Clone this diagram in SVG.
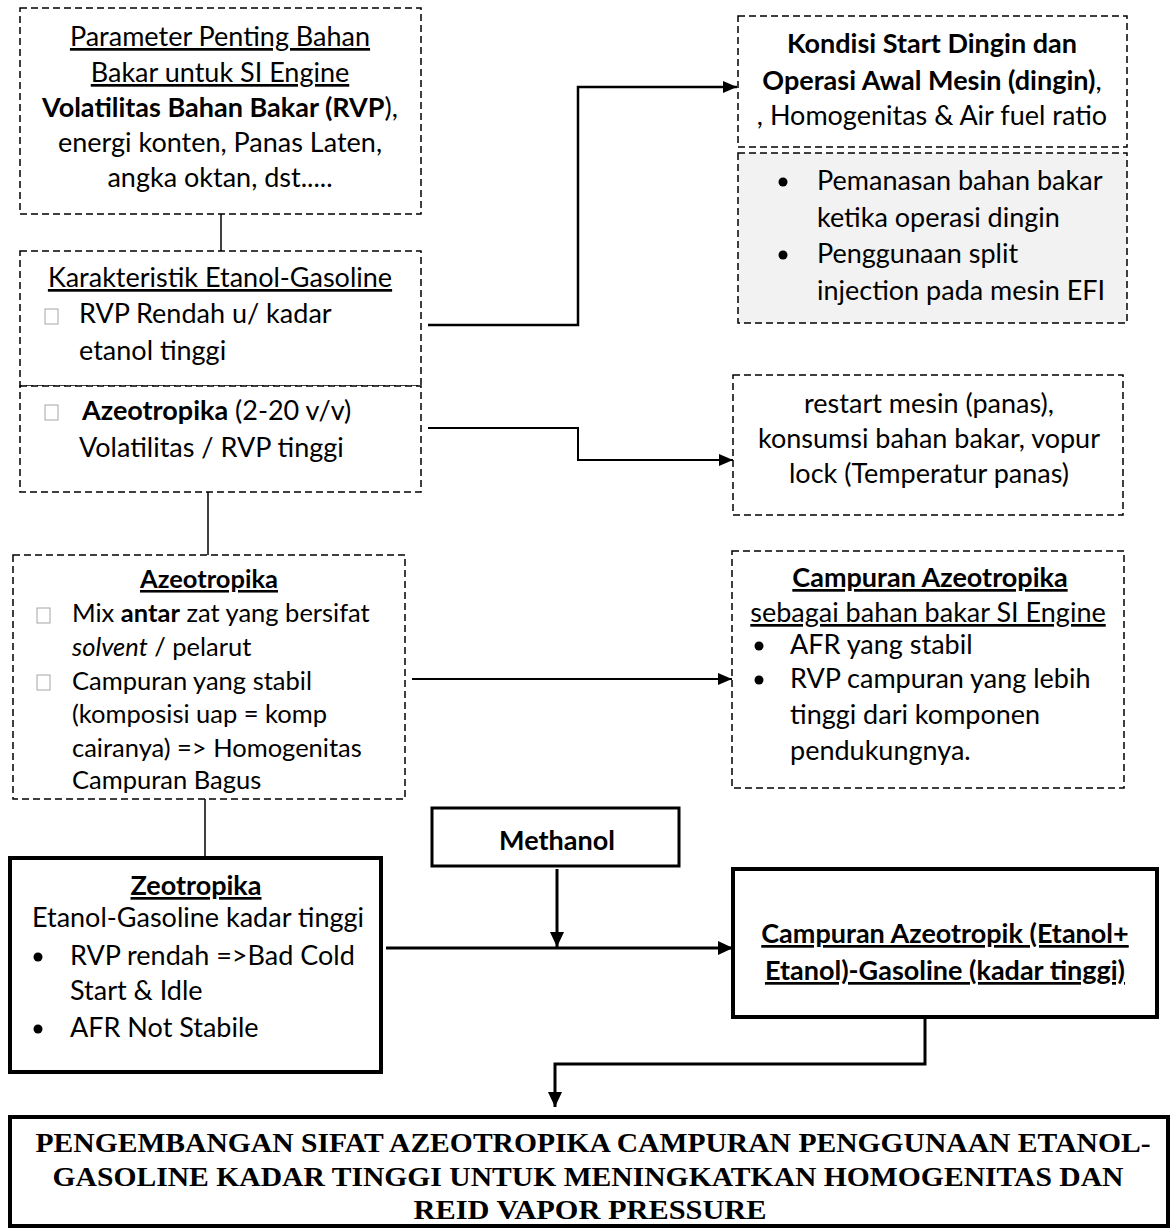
<svg xmlns="http://www.w3.org/2000/svg" width="1171" height="1228" viewBox="0 0 1171 1228">
<style>
.bg{fill:#ffffff}
.dash{fill:#ffffff;stroke:#000;stroke-width:1.5;stroke-dasharray:7 4}
.solid{fill:#ffffff;stroke:#000;stroke-width:4}
.t{font-family:Lato,"Liberation Sans",sans-serif;font-size:27px;fill:#000}
.s{font-size:25.5px}
.c{text-anchor:middle}
.b{font-weight:bold}
.u{text-decoration:underline}
.cb{fill:#fff;stroke:#a6a6a6;stroke-width:1}
.dot{fill:#000}
.serif{font-family:"Liberation Serif","Times New Roman",serif;font-size:28px;font-weight:bold;fill:#000;text-anchor:middle}
.ln{fill:none;stroke:#000}
</style>
<defs>
<marker id="arr" markerUnits="userSpaceOnUse" markerWidth="14" markerHeight="12" refX="14" refY="6" orient="auto"><path d="M0,0 L14,6 L0,12 z" fill="#000"/></marker>
<marker id="arrL" markerUnits="userSpaceOnUse" markerWidth="15" markerHeight="14" refX="15" refY="7" orient="auto"><path d="M0,0 L15,7 L0,14 z" fill="#000"/></marker>
</defs>
<rect class="bg" x="0" y="0" width="1171" height="1228"/>

<g id="connectors">
<line class="ln" x1="221" y1="214" x2="221" y2="251" stroke-width="1.5"/>
<polyline class="ln" points="428,325 578,325 578,87 737,87" stroke-width="2.5" marker-end="url(#arr)"/>
<polyline class="ln" points="428,428 578,428 578,460 733,460" stroke-width="2" marker-end="url(#arr)"/>
<line class="ln" x1="208" y1="492" x2="208" y2="555" stroke-width="1.5"/>
<line class="ln" x1="412" y1="679" x2="732" y2="679" stroke-width="2" marker-end="url(#arr)"/>
<line class="ln" x1="205" y1="799" x2="205" y2="858" stroke-width="1.5"/>
<line class="ln" x1="386" y1="948" x2="733" y2="948" stroke-width="3" marker-end="url(#arrL)"/>
<line class="ln" x1="557" y1="869" x2="557" y2="947" stroke-width="3" marker-end="url(#arrL)"/>
<polyline class="ln" points="925,1018 925,1064 555,1064 555,1107" stroke-width="3" marker-end="url(#arrL)"/>
</g>

<g id="parameter">
<rect class="dash" x="20" y="8" width="401" height="206"/>
<text class="t c u" x="220" y="46">Parameter Penting Bahan</text>
<text class="t c u" x="220" y="82">Bakar untuk SI Engine</text>
<text class="t c" x="220" y="117"><tspan class="b">Volatilitas Bahan Bakar (RVP</tspan>),</text>
<text class="t c" x="220" y="152">energi konten, Panas Laten,</text>
<text class="t c" x="220" y="187">angka oktan, dst.....</text>
</g>

<g id="karakteristik">
<rect class="dash" x="20" y="251" width="401" height="135"/>
<text class="t c u" x="220" y="287">Karakteristik Etanol-Gasoline</text>
<rect class="cb" x="45" y="309" width="13" height="15"/>
<text class="t" x="79" y="323">RVP Rendah u/ kadar</text>
<text class="t" x="79" y="360">etanol tinggi</text>
</g>

<g id="azeotropika-rvp">
<rect class="dash" x="20" y="386" width="401" height="106"/>
<rect class="cb" x="45" y="405" width="13" height="15"/>
<text class="t" x="82" y="420"><tspan class="b">Azeotropika</tspan> (2-20 v/v)</text>
<text class="t" x="79" y="457">Volatilitas / RVP tinggi</text>
</g>

<g id="kondisi">
<rect class="dash" x="738" y="16" width="389" height="131"/>
<text class="t c" x="932" y="53"><tspan class="b">Kondisi Start Dingin dan</tspan></text>
<text class="t c" x="932" y="90"><tspan class="b">Operasi Awal Mesin (dingin)</tspan>,</text>
<text class="t c" x="932" y="125">, Homogenitas &amp; Air fuel ratio</text>
</g>

<g id="pemanasan">
<rect class="dash" x="738" y="153" width="389" height="170" style="fill:#f2f2f2"/>
<circle class="dot" cx="783" cy="182" r="4.5"/>
<text class="t" x="817" y="190">Pemanasan bahan bakar</text>
<text class="t" x="817" y="227">ketika operasi dingin</text>
<circle class="dot" cx="783" cy="255" r="4.5"/>
<text class="t" x="817" y="263">Penggunaan split</text>
<text class="t" x="817" y="300">injection pada mesin EFI</text>
</g>

<g id="restart">
<rect class="dash" x="733" y="375" width="390" height="140"/>
<text class="t c" x="929" y="413">restart mesin (panas),</text>
<text class="t c" x="929" y="448">konsumsi bahan bakar, vopur</text>
<text class="t c" x="929" y="483">lock (Temperatur panas)</text>
</g>

<g id="azeotropika">
<rect class="dash" x="13" y="555" width="392" height="244"/>
<text class="t s c b u" x="209" y="588">Azeotropika</text>
<rect class="cb" x="37" y="608" width="13" height="15"/>
<text class="t s" x="72" y="622">Mix <tspan class="b">antar</tspan> zat yang bersifat</text>
<text class="t s" x="72" y="656"><tspan font-style="italic">solvent</tspan> / pelarut</text>
<rect class="cb" x="37" y="675" width="13" height="15"/>
<text class="t s" x="72" y="690">Campuran yang stabil</text>
<text class="t s" x="72" y="723">(komposisi uap = komp</text>
<text class="t s" x="72" y="757">cairanya) =&gt; Homogenitas</text>
<text class="t s" x="72" y="789">Campuran Bagus</text>
</g>

<g id="campuran-azeotropika">
<rect class="dash" x="732" y="551" width="392" height="237"/>
<text class="t c b u" x="930" y="587">Campuran Azeotropika</text>
<text class="t c u" x="928" y="622">sebagai bahan bakar SI Engine</text>
<circle class="dot" cx="759" cy="646" r="4.5"/>
<text class="t" x="790" y="654">AFR yang stabil</text>
<circle class="dot" cx="759" cy="680" r="4.5"/>
<text class="t" x="790" y="688">RVP campuran yang lebih</text>
<text class="t" x="790" y="724">tinggi dari komponen</text>
<text class="t" x="790" y="760">pendukungnya.</text>
</g>

<g id="methanol">
<rect class="solid" x="432" y="808" width="247" height="58" style="stroke-width:3"/>
<text class="t c b" x="557" y="850">Methanol</text>
</g>

<g id="zeotropika">
<rect class="solid" x="10" y="858" width="371" height="214"/>
<text class="t c b u" x="196" y="895">Zeotropika</text>
<text class="t c" x="198" y="927">Etanol-Gasoline kadar tinggi</text>
<circle class="dot" cx="38" cy="957" r="4.5"/>
<text class="t" x="70" y="965">RVP rendah =&gt;Bad Cold</text>
<text class="t" x="70" y="1000">Start &amp; Idle</text>
<circle class="dot" cx="38" cy="1029" r="4.5"/>
<text class="t" x="70" y="1037">AFR Not Stabile</text>
</g>

<g id="campuran-azeotropik">
<rect class="solid" x="733" y="869" width="424" height="148"/>
<text class="t c b u" x="945" y="943">Campuran Azeotropik (Etanol+</text>
<text class="t c b u" x="945" y="980">Etanol)-Gasoline (kadar tinggi)</text>
</g>

<g id="pengembangan">
<rect class="solid" x="10" y="1117" width="1158" height="109"/>
<text class="serif" x="593" y="1152" textLength="1115" lengthAdjust="spacingAndGlyphs">PENGEMBANGAN SIFAT AZEOTROPIKA CAMPURAN PENGGUNAAN ETANOL-</text>
<text class="serif" x="588" y="1186" textLength="1071" lengthAdjust="spacingAndGlyphs">GASOLINE KADAR TINGGI UNTUK MENINGKATKAN HOMOGENITAS DAN</text>
<text class="serif" x="590" y="1219" textLength="353" lengthAdjust="spacingAndGlyphs">REID VAPOR PRESSURE</text>
</g>
</svg>
